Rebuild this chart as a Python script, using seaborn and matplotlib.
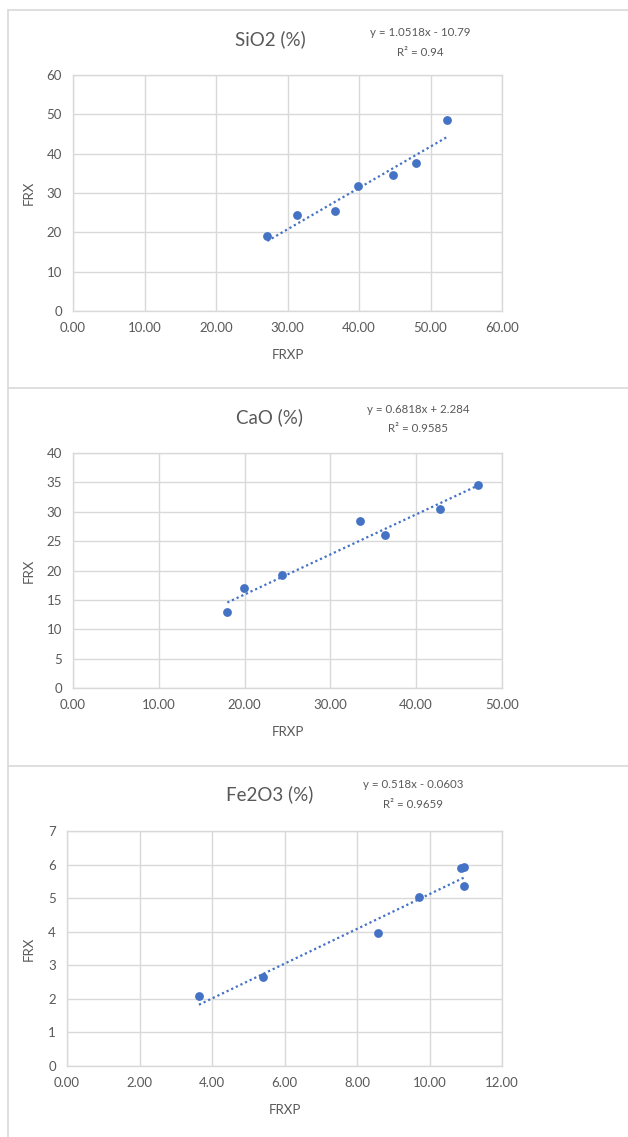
import matplotlib
matplotlib.use('Agg')
import matplotlib.pyplot as plt
from matplotlib.lines import Line2D
import numpy as np
import pandas as pd
import seaborn as sns

# values
sio2_frxp = [27.18, 31.38, 36.69, 39.86, 44.76, 47.93, 52.35]
sio2_frx = [19.07, 24.5, 25.5, 31.7, 34.5, 37.7, 48.5]

cao_frxp = [17.99, 19.89, 24.32, 33.49, 36.36, 42.77, 47.2]
cao_frx = [13.01, 16.97, 19.29, 28.35, 26.03, 30.5, 34.63]

fe_frxp = [3.64, 5.42, 8.58, 9.70, 10.88, 10.94, 10.95]
fe_frx = [2.085, 2.65, 3.97, 5.03, 5.90, 5.94, 5.37]

titles = ['SiO2 (%)', 'CaO (%)', 'Fe2O3 (%)']
equations = ['y = 1.0518x - 10.79', 'y = 0.6818x + 2.284', 'y = 0.518x - 0.0603']
r2_labels = ['R² = 0.94', 'R² = 0.9585', 'R² = 0.9659']
slopes = [1.0518, 0.6818, 0.518]
intercepts = [-10.79, 2.284, -0.0603]
x_ticks = [np.arange(0, 61, 10), np.arange(0, 51, 10), np.arange(0, 13, 2)]
y_ticks = [np.arange(0, 61, 10), np.arange(0, 41, 5), np.arange(0, 8, 1)]

sns.set_style('white')
plt.rcParams['font.family'] = ['Lato', 'DejaVu Sans']

W, H = 628, 1137
blue = '#4472C4'
grid = '#D9D9D9'
txt = '#595959'

fig = plt.figure(figsize=(W / 100, H / 100), dpi=100)

# axes boxes in pixels: left, right, top, bottom
boxes = [(73, 502, 75, 311), (73, 502, 453, 688), (67, 502, 831, 1066)]
title_y = [39, 417, 794]
eq_pos = [(420, 33), (418, 409), (413, 785)]

data = [(sio2_frxp, sio2_frx), (cao_frxp, cao_frx), (fe_frxp, fe_frx)]

for i, (xs, ys) in enumerate(data):
    l, r, t, b = boxes[i]
    ax = fig.add_axes([l / W, 1 - b / H, (r - l) / W, (b - t) / H])
    df = pd.DataFrame({'FRXP': xs, 'FRX': ys})
    sns.scatterplot(data=df, x='FRXP', y='FRX', ax=ax, color=blue, s=40,
                    edgecolor=blue, linewidth=0, zorder=3)
    # trendline from the equation shown on the chart
    xl = np.array([min(xs), max(xs)])
    ax.plot(xl, slopes[i] * xl + intercepts[i], color=blue, lw=1.6,
            linestyle=(0, (1, 1.3)), zorder=2)

    ax.set_xlim(x_ticks[i][0], x_ticks[i][-1])
    ax.set_ylim(y_ticks[i][0], y_ticks[i][-1])
    ax.set_xticks(x_ticks[i])
    ax.set_xticklabels([f'{v:.2f}' for v in x_ticks[i]])
    ax.set_yticks(y_ticks[i])
    ax.grid(True, color=grid, lw=1)
    ax.set_axisbelow(True)
    for sp in ax.spines.values():
        sp.set_color(grid)
        sp.set_linewidth(1)
    ax.tick_params(length=0, labelsize=9.5, colors=txt, pad=8)
    ax.set_xlabel('FRXP', fontsize=9.5, color=txt, labelpad=11)
    ax.set_ylabel('FRX', fontsize=9.5, color=txt, labelpad=10)
    ax.yaxis.set_label_coords((35 - l) / (r - l), 0.5)

    fig.text(270 / W, 1 - title_y[i] / H, titles[i], ha='center', va='center',
             fontsize=13.5, color=txt)
    ex, ey = eq_pos[i]
    fig.text(ex / W, 1 - ey / H, equations[i], ha='center', va='center',
             fontsize=8.3, color=txt)
    fig.text(ex / W, 1 - (ey + 20) / H, r2_labels[i], ha='center', va='center',
             fontsize=8.3, color=txt)

# panel frames
fig.add_artist(Line2D([8 / W, 8 / W], [0, 1 - 10 / H], color=grid, lw=1.2))
for yy in [10, 388, 766]:
    fig.add_artist(Line2D([8 / W, 1], [1 - yy / H, 1 - yy / H], color=grid, lw=1.2))

fig.savefig('out.png', dpi=100, facecolor='white')
